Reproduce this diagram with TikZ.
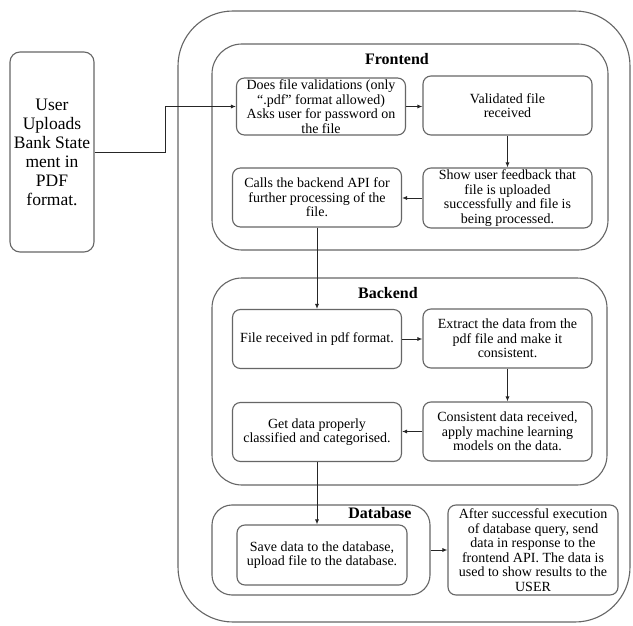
\documentclass[tikz,border=0pt]{standalone}
\usepackage{fontspec}
\setmainfont{Liberation Serif}
\usetikzlibrary{arrows.meta}
\begin{document}
\begin{tikzpicture}
	[x=1pt,y=-1pt,
	stepbox/.style={draw=gray!80!black, line width=1.1pt, rounded corners=8pt,
		minimum width=169pt, minimum height=59pt, inner sep=0pt,
		align=center, font=\fontsize{14}{14.5}\selectfont, text=black},
	panel/.style={draw=gray!80!black, line width=1.1pt, rounded corners=#1, inner sep=0pt},
	paneltitle/.style={font=\fontsize{16}{18}\bfseries, text=black},
	flow/.style={draw=black!85, line width=0.9pt, -{Latex[length=5pt,width=4pt]}}]
	% frame and user
	\fill[white] (0,0) rectangle (633,626);
	\node (outer) [panel=55pt, minimum width=452pt, minimum height=611pt] at (404,316.5) {};
	\node (user) [panel=10pt, minimum width=84pt, minimum height=200pt,
		align=center, font=\fontsize{17.5}{19}\selectfont, text=black] at (52,152)
		{User\\Uploads\\Bank State\\ment in\\PDF\\format.};
	% frontend
	\node (front) [panel=30pt, minimum width=396pt, minimum height=206pt] at (410,147) {};
	\node (fronttitle) [paneltitle] at (397,59) {Frontend};
	\node (valid) [stepbox, minimum height=57pt] at (321,106.5)
		{Does file validations (only\\``.pdf'' format allowed)\\Asks user for password on\\the file};
	\node (validated) [stepbox] at (507.5,105.5) {Validated file\\received};
	\node (feedback) [stepbox, minimum height=60pt] at (507.5,198)
		{Show user feedback that\\file is uploaded\\successfully and file is\\being processed.};
	\node (callapi) [stepbox] at (317,197.5)
		{Calls the backend API for\\further processing of the\\file.};
	% backend
	\node (back) [panel=30pt, minimum width=395pt, minimum height=207pt] at (409.5,381.5) {};
	\node (backtitle) [paneltitle] at (388,293) {Backend};
	\node (received) [stepbox] at (317,339) {File received in pdf format.};
	\node (extract) [stepbox] at (507.5,338.5)
		{Extract the data from the\\pdf file and make it\\consistent.};
	\node (classify) [stepbox] at (317,432)
		{Get data properly\\classified and categorised.};
	\node (models) [stepbox] at (507.5,431.5)
		{Consistent data received,\\apply machine learning\\models on the data.};
	% database
	\node (db) [panel=20pt, minimum width=218pt, minimum height=90pt] at (321,550) {};
	\node (dbtitle) [paneltitle] at (380,513) {Database};
	\node (save) [stepbox, minimum width=170pt, minimum height=60pt] at (322,555)
		{Save data to the database,\\upload file to the database.};
	\node (result) [stepbox, minimum width=170pt, minimum height=90pt] at (533,550)
		{After successful execution\\of database query, send\\data in response to the\\frontend API. The data is\\used to show results to the\\USER};
	% connectors
	\coordinate (bend) at (165,106.5);
	\draw[flow] (user.east) -| (bend) -- (valid.west);
	\draw[flow] (valid.east) -- (valid.east -| validated.west);
	\draw[flow] (validated.south) -- (feedback.north);
	\draw[flow] (feedback.west) -- (feedback.west -| callapi.east);
	\draw[flow] (callapi.south) -- (received.north);
	\draw[flow] (received.east) -- (received.east -| extract.west);
	\draw[flow] (extract.south) -- (models.north);
	\draw[flow] (models.west) -- (models.west -| classify.east);
	\draw[flow] (classify.south) -- (classify.south |- save.north);
	\draw[flow] (db.east) -- (result.west);
\end{tikzpicture}
\end{document}
